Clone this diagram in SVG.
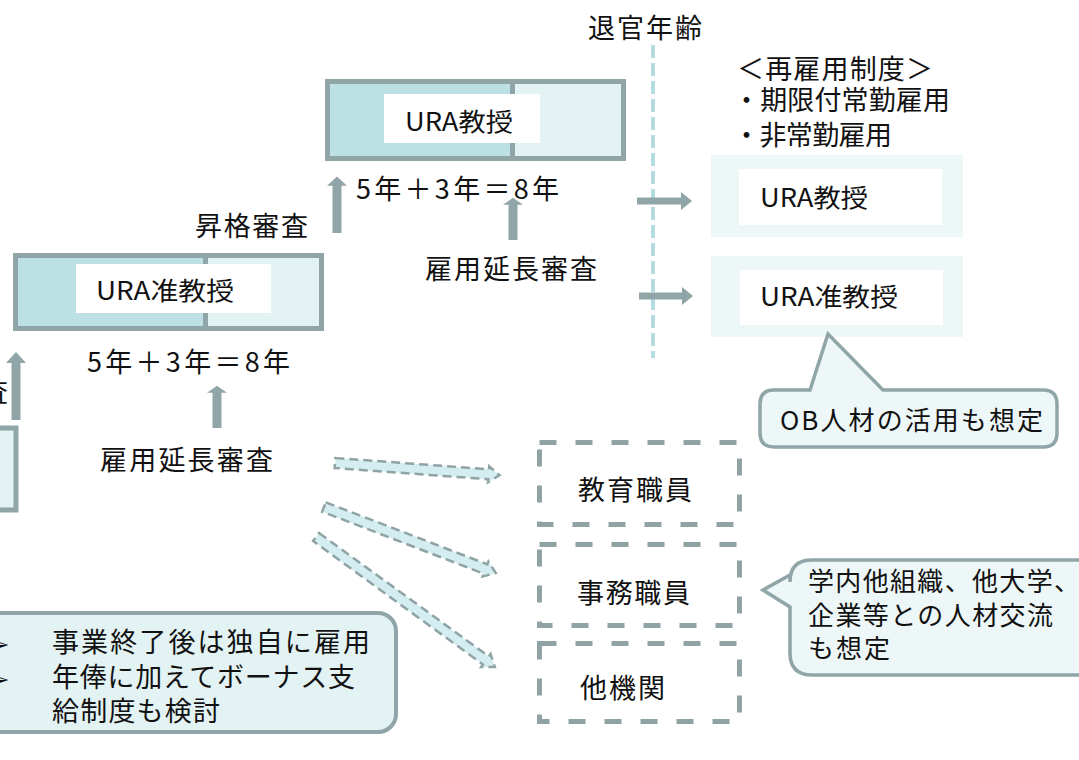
<svg xmlns="http://www.w3.org/2000/svg" width="1079" height="760" viewBox="0 0 1079 760">
<style>
text{font-family:"Noto Sans CJK JP","Noto Sans",sans-serif;fill:#111;}
.t26{font-size:27px;}
.t24{font-size:25px;}
.t25{font-size:26px;}
.bord{stroke:#8fa5a7;stroke-width:5;}
.dark{fill:#bde0e4;}
.light{fill:#e3f2f3;}
.pale{fill:#eef7f8;}
.white{fill:#fff;}
.garrow{fill:#8fa5a7;}
.dbox{fill:none;stroke:#8fa3a5;stroke-width:5;stroke-dasharray:17 19;}
.darrow{fill:#d3edf1;stroke:#8fa3a5;stroke-width:2.5;stroke-dasharray:9 5;}
.callout{fill:#eef7f8;stroke:#8fa5a7;stroke-width:3.5;}
</style>
<defs>
<path id="up" d="M-4.5,0 L-4.5,-57 L-10,-57 L0,-68 L10,-57 L4.5,-57 L4.5,0 Z"/>
</defs>

<!-- left cut box -->
<g id="leftbox">
<rect x="-20" y="428" width="36" height="82" class="light bord"/>
<text x="-19" y="402" class="t26">査</text>
</g>

<!-- URA associate professor box -->
<g id="assoc">
<rect x="15.5" y="255.5" width="190" height="73" class="dark bord"/>
<rect x="205.5" y="255.5" width="116" height="73" class="light bord"/>
<rect x="76" y="264" width="195" height="49" class="white"/>
<text x="96" y="300" class="t24" textLength="138" lengthAdjust="spacingAndGlyphs">URA准教授</text>
<text x="87" y="372" class="t26" textLength="203" lengthAdjust="spacing">5年＋3年＝8年</text>
<text x="100" y="470" class="t26" textLength="173" lengthAdjust="spacing">雇用延長審査</text>
</g>

<!-- URA professor box -->
<g id="prof">
<rect x="327.5" y="81.5" width="185" height="77" class="dark bord"/>
<rect x="512.5" y="81.5" width="111" height="77" class="light bord"/>
<rect x="384" y="94" width="156" height="49" class="white"/>
<text x="405" y="131" class="t24" textLength="108" lengthAdjust="spacingAndGlyphs">URA教授</text>
<text x="356" y="199" class="t26" textLength="203" lengthAdjust="spacing">5年＋3年＝8年</text>
<text x="425" y="279" class="t26" textLength="172" lengthAdjust="spacing">雇用延長審査</text>
<text x="195" y="236" class="t26" textLength="113" lengthAdjust="spacing">昇格審査</text>
</g>

<!-- retirement line -->
<g id="retire">
<text x="588" y="38" class="t26" textLength="114" lengthAdjust="spacing">退官年齢</text>
<line x1="653" y1="45" x2="653" y2="358" stroke="#b3dbe0" stroke-width="4" stroke-dasharray="13 5"/>
</g>

<!-- rehire system text -->
<g id="rehire">
<text x="737" y="79" class="t26" textLength="196" lengthAdjust="spacing">＜再雇用制度＞</text>
<text x="733" y="110" class="t26" textLength="217" lengthAdjust="spacing">・期限付常勤雇用</text>
<text x="733" y="145" class="t26" textLength="159" lengthAdjust="spacing">・非常勤雇用</text>
</g>

<g id="rprof">
<rect x="711" y="155" width="252" height="82" class="pale"/>
<rect x="739" y="169" width="203" height="56" class="white"/>
<text x="760" y="207" class="t24" textLength="108" lengthAdjust="spacingAndGlyphs">URA教授</text>
</g>
<g id="rassoc">
<rect x="711" y="256" width="252" height="81" class="pale"/>
<rect x="740" y="270" width="203" height="55" class="white"/>
<text x="760" y="306" class="t24" textLength="138" lengthAdjust="spacingAndGlyphs">URA准教授</text>
</g>

<!-- callouts -->
<g id="callout-ob">
<path class="callout" d="M774,390 L810,390 L828,334 L883,390 L1043,390 Q1057,390 1057,404 L1057,433 Q1057,447 1043,447 L774,447 Q760,447 760,433 L760,404 Q760,390 774,390 Z"/>
<text x="780" y="430" class="t25" textLength="263" lengthAdjust="spacing">OB人材の活用も想定</text>
</g>
<g id="callout-ex">
<path class="callout" d="M812,560 L1100,560 L1100,675 L812,675 Q790,675 790,653 L790,607 L763,590 L790,575 L790,582 Q790,560 812,560 Z"/>
<text x="808" y="591" class="t25" textLength="272" lengthAdjust="spacing">学内他組織、他大学、</text>
<text x="808" y="625" class="t25" textLength="245" lengthAdjust="spacing">企業等との人材交流</text>
<text x="808" y="658" class="t25" textLength="82" lengthAdjust="spacing">も想定</text>
</g>

<!-- dashed boxes -->
<g id="edu">
<rect x="539.5" y="442.5" width="200" height="82" class="dbox"/>
<text x="578" y="500" class="t26" textLength="114" lengthAdjust="spacing">教育職員</text>
</g>
<g id="office">
<rect x="539.5" y="544.5" width="200" height="81" class="dbox"/>
<text x="577" y="603" class="t26" textLength="113" lengthAdjust="spacing">事務職員</text>
</g>
<g id="other">
<rect x="539.5" y="643.5" width="200" height="78" class="dbox"/>
<text x="580" y="698" class="t26" textLength="85" lengthAdjust="spacing">他機関</text>
</g>

<!-- bottom-left note -->
<g id="note">
<rect x="-20" y="613" width="416" height="119" rx="18" ry="18" fill="#e3f2f3" stroke="#8fa5a7" stroke-width="4"/>
<text x="-9" y="652" font-family="DejaVu Sans" font-size="22">➢</text>
<text x="-9" y="687" font-family="DejaVu Sans" font-size="22">➢</text>
<text x="52" y="652" class="t26" textLength="318" lengthAdjust="spacing">事業終了後は独自に雇用</text>
<text x="52" y="687" class="t26" textLength="303" lengthAdjust="spacing">年俸に加えてボーナス支</text>
<text x="52" y="721" class="t26" textLength="168" lengthAdjust="spacing">給制度も検討</text>
</g>

<!-- connectors -->
<g id="connectors">
<use href="#up" class="garrow" transform="translate(16,420)"/>
<use href="#up" class="garrow" transform="translate(217,428) scale(1,0.62)"/>
<use href="#up" class="garrow" transform="translate(337,233) scale(1,0.83)"/>
<use href="#up" class="garrow" transform="translate(513,240) scale(1,0.62)"/>
<path class="garrow" d="M637,197.5 L681,197.5 L681,192 L692,201 L681,210 L681,204.5 L637,204.5 Z"/>
<path class="garrow" d="M639,292.5 L682,292.5 L682,287 L693,296 L682,305 L682,299.5 L639,299.5 Z"/>
<path class="darrow" transform="translate(335,463) rotate(4.2)" d="M0,-5 L154,-5 L154,-8 L165,0 L154,8 L154,5 L0,5 Z"/>
<path class="darrow" transform="translate(324,507) rotate(21)" d="M0,-5 L173,-5 L173,-8 L184,0 L173,8 L173,5 L0,5 Z"/>
<path class="darrow" transform="translate(316,537) rotate(36)" d="M0,-5 L210,-5 L210,-8 L221,0 L210,8 L210,5 L0,5 Z"/>
</g>
</svg>
